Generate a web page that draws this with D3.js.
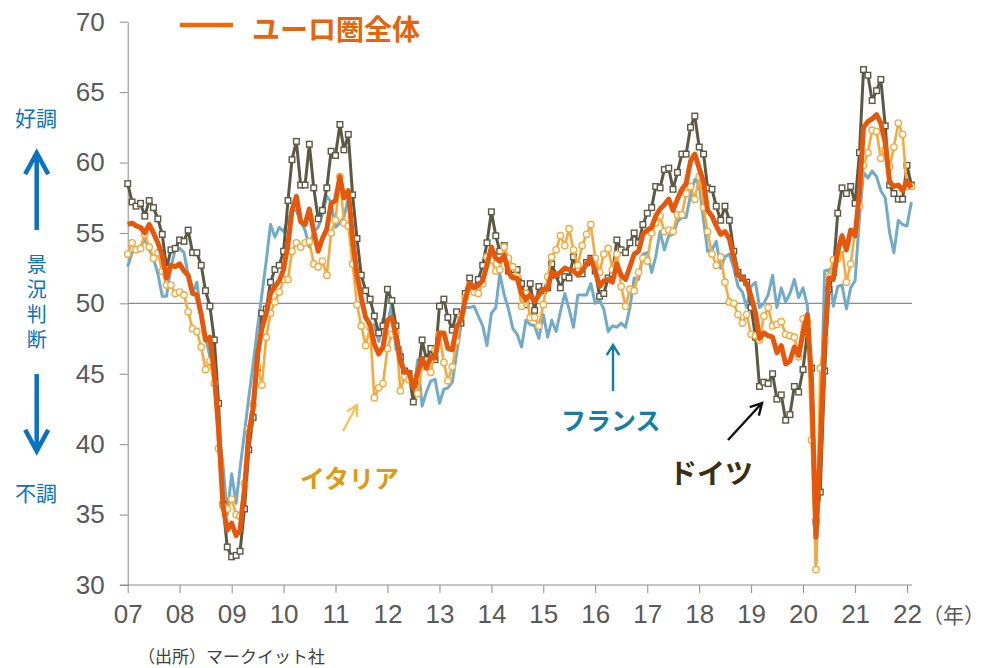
<!DOCTYPE html>
<html>
<head>
<meta charset="utf-8">
<script src="https://cdn.jsdelivr.net/npm/d3@7"></script>
<style>
body { margin: 0; background: #fff; }
svg text { font-family: "Liberation Sans", Arial, sans-serif; }
svg .jp { font-family: "Noto Sans CJK JP", sans-serif; }
</style>
</head>
<body>
<div id="chart"></div>
<script>
// monthly PMI, Jan 2007 - Feb 2022
var startYear = 2007;
var yearLabels = ["07","08","09","10","11","12","13","14","15","16","17","18","19","20","21","22"];
var yTicks = [30, 35, 40, 45, 50, 55, 60, 65, 70];

var euro = [
  55.6, 55.7, 55.5, 55.4, 55.0, 55.6, 55.0, 54.3, 53.4, 51.8, 52.7, 52.6,
  52.8, 52.3, 52.0, 50.7, 50.6, 49.2, 47.4, 47.6, 45.0, 41.1, 35.6, 33.9,
  34.4, 33.5, 33.9, 36.8, 40.7, 42.6, 46.3, 48.2, 49.3, 50.7, 51.2, 51.6,
  52.4, 54.2, 56.6, 57.6, 55.8, 55.6, 56.7, 55.1, 53.7, 54.6, 55.3, 57.1,
  57.3, 59.0, 57.5, 58.0, 54.6, 52.0, 50.4, 49.0, 48.5, 47.1, 46.4, 46.9,
  48.8, 49.0, 47.7, 45.9, 45.1, 45.1, 44.0, 45.1, 46.1, 45.4, 46.2, 46.1,
  47.9, 47.9, 46.8, 46.7, 48.3, 48.8, 50.3, 51.4, 51.1, 51.3, 51.6, 52.7,
  54.0, 53.2, 53.0, 53.4, 52.2, 51.8, 51.8, 50.7, 50.3, 50.6, 50.1, 50.6,
  51.0, 51.0, 52.2, 52.0, 52.2, 52.5, 52.4, 52.3, 52.0, 52.3, 52.8, 53.2,
  52.3, 51.2, 51.6, 51.7, 51.5, 52.8, 52.0, 51.7, 52.6, 53.5, 53.7, 54.9,
  55.2, 55.4, 56.2, 56.7, 57.0, 57.4, 56.6, 57.4, 58.1, 58.5, 60.1, 60.6,
  59.6, 58.6, 56.6, 56.2, 55.5, 54.9, 55.1, 54.6, 53.2, 52.0, 51.8, 51.4,
  50.5, 49.3, 47.5, 47.9, 47.7, 47.6, 46.5, 47.0, 45.7, 45.9, 46.9, 46.3,
  47.9, 49.2, 44.5, 33.4, 39.4, 47.4, 51.8, 51.7, 53.7, 54.8, 53.8, 55.2,
  54.8, 57.9, 62.5, 62.9, 63.1, 63.4, 62.8, 61.4, 58.6, 58.3, 58.4, 58.0,
  58.7, 58.2
];

var germany = [
  58.5, 57.2, 56.9, 57.1, 56.2, 57.3, 56.8, 56.0, 54.9, 52.5, 53.8, 53.9,
  54.5, 54.4, 55.2, 53.6, 53.6, 52.7, 50.9, 49.8, 47.4, 42.9, 35.7, 32.7,
  32.0, 32.1, 32.4, 35.4, 39.6, 41.9, 45.4, 49.3, 49.6, 51.5, 52.4, 52.7,
  53.7, 57.3, 60.2, 61.5, 58.4, 58.4, 61.3, 58.2, 56.0, 56.6, 58.2, 60.8,
  60.5, 62.7, 60.9, 62.0, 57.7, 54.6, 52.0, 50.9, 50.3, 49.1, 47.9, 48.4,
  51.0, 50.2, 48.4, 46.2, 45.2, 45.0, 43.0, 44.7, 47.4, 46.0, 46.8, 46.0,
  49.8, 50.3, 49.0, 48.1, 49.4, 48.6, 50.7, 51.8, 51.1, 51.7, 52.7, 54.3,
  56.5, 54.8, 53.7, 54.1, 52.3, 52.0, 52.4, 51.4, 49.9, 51.4, 49.5, 51.2,
  50.9, 51.1, 52.8, 52.0, 51.1, 51.9, 51.8, 53.3, 52.3, 52.1, 52.9, 53.2,
  52.3, 50.5, 50.7, 51.8, 52.1, 54.5, 53.8, 53.6, 54.3, 55.0, 54.3, 55.6,
  56.4, 56.8, 58.3, 58.2, 59.5, 59.6, 58.1, 59.3, 60.6, 60.6, 62.5, 63.3,
  61.1, 60.6, 58.2, 58.1, 56.9, 55.9, 56.9, 55.9, 53.7, 52.2, 51.8, 51.5,
  49.7, 47.6, 44.1, 44.4, 44.3, 45.0, 43.2, 43.5, 41.7, 42.1, 44.1, 43.7,
  45.3, 48.0, 45.4, 34.5, 36.6, 45.2, 51.0, 52.2, 56.4, 58.2, 57.8, 58.3,
  57.1, 60.7, 66.6, 66.2, 64.4, 65.1, 65.9, 62.6, 58.4, 57.8, 57.4, 57.4,
  59.8, 58.4
];

var france = [
  52.6, 53.6, 53.8, 54.0, 54.6, 53.8, 53.2, 52.1, 50.5, 50.5, 52.6, 53.8,
  53.9, 53.6, 52.0, 50.7, 51.5, 49.1, 47.6, 46.2, 44.3, 41.2, 38.5, 35.0,
  37.9, 35.8, 38.3, 40.8, 43.3, 45.7, 48.2, 50.6, 53.0, 55.6, 54.7, 55.4,
  55.1, 55.9, 56.6, 56.6, 55.8, 55.2, 54.0, 55.1, 55.4, 56.3, 57.6, 57.2,
  55.4, 55.7, 56.1, 57.5, 54.9, 52.5, 50.5, 49.1, 48.2, 48.5, 47.3, 48.9,
  48.5, 50.0, 46.7, 46.9, 44.7, 45.2, 43.4, 46.0, 42.7, 43.7, 44.5, 44.6,
  42.9, 43.9, 44.0, 44.4, 46.4, 48.4, 49.7, 49.7, 49.8, 49.1, 48.4, 47.0,
  49.3, 49.7, 52.1, 50.6, 49.6, 48.2, 47.8, 46.9, 48.8, 48.5, 48.4, 47.5,
  49.2, 47.6, 48.8, 48.0, 49.4, 50.7, 49.6, 48.3, 50.6, 50.6, 50.6, 51.4,
  50.0, 50.2, 49.6, 48.0, 48.4, 48.3, 48.6, 48.3, 49.7, 51.8, 51.7, 53.5,
  53.6, 52.2, 53.3, 55.1, 53.8, 54.8, 54.9, 55.8, 56.1, 56.1, 57.7, 58.8,
  58.4, 55.9, 53.7, 53.8, 54.4, 52.5, 53.3, 53.5, 52.5, 51.2, 50.8, 49.7,
  51.2, 51.5, 49.7, 50.0, 50.6, 52.0, 49.7, 51.1, 50.1, 50.7, 51.7, 50.4,
  51.1, 49.8, 43.2, 31.5, 40.6, 52.3, 52.4, 49.8, 51.2, 51.3, 49.6, 51.1,
  51.6, 56.1, 59.3, 58.9, 59.4, 59.0, 58.0, 57.5, 55.0, 53.6, 55.9, 55.6,
  55.5, 57.2
];

var italy = [
  53.5, 54.3, 53.8, 53.9, 54.9, 54.0, 53.2, 53.6, 52.3, 51.3, 51.3, 50.7,
  50.8, 50.6, 49.4, 48.2, 48.0, 46.9, 45.3, 45.9, 44.3, 39.7, 35.6, 35.4,
  36.1, 35.0, 34.9, 37.2, 41.1, 42.8, 45.5, 44.2, 47.6, 49.3, 50.1, 50.8,
  51.7, 51.7, 53.7, 54.3, 54.0, 54.3, 54.4, 52.8, 52.6, 53.0, 52.0, 55.0,
  55.9, 59.0, 55.7, 55.5, 52.8, 49.9, 48.4, 47.0, 48.3, 43.3, 44.0, 44.3,
  46.8, 47.8, 47.9, 43.8, 44.8, 44.6, 44.3, 43.6, 45.7, 45.5, 45.1, 46.7,
  47.8, 45.8, 44.5, 45.5, 47.3, 49.1, 50.4, 51.3, 50.8, 50.7, 51.4, 53.3,
  53.1, 52.3, 52.4, 54.0, 53.2, 52.6, 51.9, 49.8, 50.7, 49.0, 49.0, 48.4,
  49.9, 51.9, 53.3, 53.8, 54.8, 54.1, 55.3, 53.8, 52.7, 54.1, 54.9, 55.6,
  53.2, 52.2, 53.5, 53.9, 52.4, 53.5, 51.2, 49.8, 51.0, 50.9, 52.2, 53.2,
  53.0, 55.0, 55.7, 56.2, 55.1, 55.2, 55.1, 56.3, 56.3, 57.8, 58.3, 57.4,
  59.0, 56.8, 55.1, 53.5, 52.7, 53.3, 51.5, 50.1, 50.0, 49.2, 48.6, 49.2,
  47.8, 47.7, 47.4, 49.1, 49.7, 48.4, 48.5, 48.7, 47.8, 47.7, 47.6, 46.2,
  48.9, 48.7, 40.3, 31.1, 45.4, 47.5, 51.9, 53.1, 53.2, 53.9, 51.5, 52.8,
  55.1, 56.9, 59.8, 60.7, 62.3, 62.2, 60.3, 60.9, 59.7, 61.1, 62.8, 62.0,
  58.3, 58.3
];

var W = 985, H = 668;
var svg = d3.select("#chart").append("svg")
    .attr("width", W)
    .attr("height", H)
    .style("display", "block");

var x = d3.scaleTime()
    .domain([new Date(startYear, 0, 1), new Date(startYear + 15, 0, 1)])
    .range([127.7, 907]);
var y = d3.scaleLinear().domain([30, 70]).range([585, 21.7]);

function monthDate(i) { return new Date(startYear, i, 1); }

// axes
var axisColor = "#8c8c8c";
var yAxis = svg.append("g")
    .attr("transform", "translate(127.7,0)")
    .call(d3.axisLeft(y).tickValues(yTicks).tickSize(8).tickPadding(15).tickSizeOuter(0));
yAxis.select(".domain").attr("stroke", axisColor);
yAxis.selectAll(".tick line").attr("stroke", axisColor);
yAxis.selectAll(".tick text")
    .attr("fill", "#595959")
    .style("font-size", "26px");

var yearDates = yearLabels.map(function(d, i) { return new Date(startYear + i, 0, 1); });
var xAxis = svg.append("g")
    .attr("transform", "translate(0,585)")
    .call(d3.axisBottom(x).tickValues(yearDates).tickSize(8).tickPadding(12)
        .tickFormat(function(d, i) { return yearLabels[i]; }));
xAxis.select(".domain").remove();
xAxis.selectAll(".tick line").attr("stroke", axisColor);
xAxis.selectAll(".tick text")
    .attr("fill", "#595959")
    .style("font-size", "26px");
svg.append("line")
    .attr("x1", 120).attr("x2", 912)
    .attr("y1", 585).attr("y2", 585)
    .attr("stroke", axisColor);

// 50 line
svg.append("line")
    .attr("x1", x(new Date(startYear, 0, 1))).attr("x2", 912)
    .attr("y1", y(50)).attr("y2", y(50))
    .attr("stroke", "#8c8c8c")
    .attr("stroke-width", 1.2);

var line = d3.line()
    .x(function(d, i) { return x(monthDate(i)); })
    .y(function(d) { return y(d); });

var colFrance = "#72abc8",
    colGermany = "#5b5944",
    colItaly = "#f6aa3c",
    colEuro = "#e5580c";

svg.append("path").datum(france)
    .attr("d", line)
    .attr("fill", "none")
    .attr("stroke", colFrance)
    .attr("stroke-width", 3)
    .attr("stroke-linejoin", "round");

svg.append("path").datum(germany)
    .attr("d", line)
    .attr("fill", "none")
    .attr("stroke", colGermany)
    .attr("stroke-width", 3)
    .attr("stroke-linejoin", "round");
svg.append("g").selectAll("rect")
    .data(germany)
    .enter().append("rect")
    .attr("x", function(d, i) { return x(monthDate(i)) - 2.8; })
    .attr("y", function(d) { return y(d) - 2.8; })
    .attr("width", 5.6)
    .attr("height", 5.6)
    .attr("fill", "#fff")
    .attr("stroke", colGermany)
    .attr("stroke-width", 1.4);

svg.append("path").datum(italy)
    .attr("d", line)
    .attr("fill", "none")
    .attr("stroke", colItaly)
    .attr("stroke-width", 2.6)
    .attr("stroke-linejoin", "round");
svg.append("g").selectAll("circle")
    .data(italy)
    .enter().append("circle")
    .attr("cx", function(d, i) { return x(monthDate(i)); })
    .attr("cy", function(d) { return y(d); })
    .attr("r", 3.2)
    .attr("fill", "#fff")
    .attr("stroke", colItaly)
    .attr("stroke-width", 1.4);

svg.append("path").datum(euro)
    .attr("d", line)
    .attr("fill", "none")
    .attr("stroke", colEuro)
    .attr("stroke-width", 5)
    .attr("stroke-linejoin", "round");

// legend
svg.append("line")
    .attr("x1", 180).attr("x2", 233)
    .attr("y1", 25).attr("y2", 25)
    .attr("stroke", "#f0680a")
    .attr("stroke-width", 4.5);
svg.append("text").attr("class", "jp")
    .attr("x", 252).attr("y", 40)
    .attr("fill", "#e3650d")
    .style("font-size", "28px")
    .style("font-weight", "bold")
    .text("ユーロ圏全体");

function arrow(x1, y1, x2, y2, color, w, head, spread) {
    var a = Math.atan2(y2 - y1, x2 - x1);
    var p1 = [x2 - head * Math.cos(a - spread), y2 - head * Math.sin(a - spread)];
    var p2 = [x2 - head * Math.cos(a + spread), y2 - head * Math.sin(a + spread)];
    svg.append("path")
        .attr("d", "M" + x1 + "," + y1 + "L" + x2 + "," + y2 +
            "M" + p1[0] + "," + p1[1] + "L" + x2 + "," + y2 + "L" + p2[0] + "," + p2[1])
        .attr("fill", "none")
        .attr("stroke", color)
        .attr("stroke-width", w)
        .attr("stroke-linecap", "butt")
        .attr("stroke-linejoin", "miter");
}

// left side labels
var blue = "#0a72bf";
svg.append("text").attr("class", "jp")
    .attr("x", 36).attr("y", 126)
    .attr("text-anchor", "middle")
    .attr("fill", blue)
    .style("font-size", "21px")
    .text("好調");
arrow(36.7, 230, 36.7, 153, blue, 4.5, 24, 0.5);
svg.append("text").attr("class", "jp")
    .attr("x", 36.7).attr("y", 254)
    .attr("fill", blue)
    .style("font-size", "20px")
    .style("writing-mode", "vertical-rl")
    .style("letter-spacing", "5px")
    .text("景況判断");
arrow(36.7, 374, 36.7, 451, blue, 4.5, 24, 0.5);
svg.append("text").attr("class", "jp")
    .attr("x", 36).attr("y", 501)
    .attr("text-anchor", "middle")
    .attr("fill", blue)
    .style("font-size", "21px")
    .text("不調");

// series annotations
svg.append("text").attr("class", "jp")
    .attr("x", 300).attr("y", 488)
    .attr("fill", "#dd9a12")
    .style("font-size", "25px")
    .style("font-weight", "bold")
    .text("イタリア");
arrow(343, 431, 357, 405, "#ffbf4f", 2.2, 12, 0.5);

svg.append("text").attr("class", "jp")
    .attr("x", 561).attr("y", 430)
    .attr("fill", "#137fa3")
    .style("font-size", "25px")
    .style("font-weight", "bold")
    .text("フランス");
arrow(613, 391, 613, 345, "#137fa3", 2.4, 12, 0.55);

svg.append("text").attr("class", "jp")
    .attr("x", 669).attr("y", 484)
    .attr("fill", "#3a2f10")
    .style("font-size", "28px")
    .style("font-weight", "bold")
    .text("ドイツ");
arrow(728, 440, 762, 403, "#111", 2.4, 13, 0.5);

// unit + source
svg.append("text").attr("class", "jp")
    .attr("x", 922).attr("y", 623)
    .attr("fill", "#595959")
    .style("font-size", "21px")
    .text("（年）");
svg.append("text").attr("class", "jp")
    .attr("x", 138).attr("y", 663)
    .attr("fill", "#404040")
    .style("font-size", "17px")
    .text("（出所）マークイット社");
</script>
</body>
</html>
